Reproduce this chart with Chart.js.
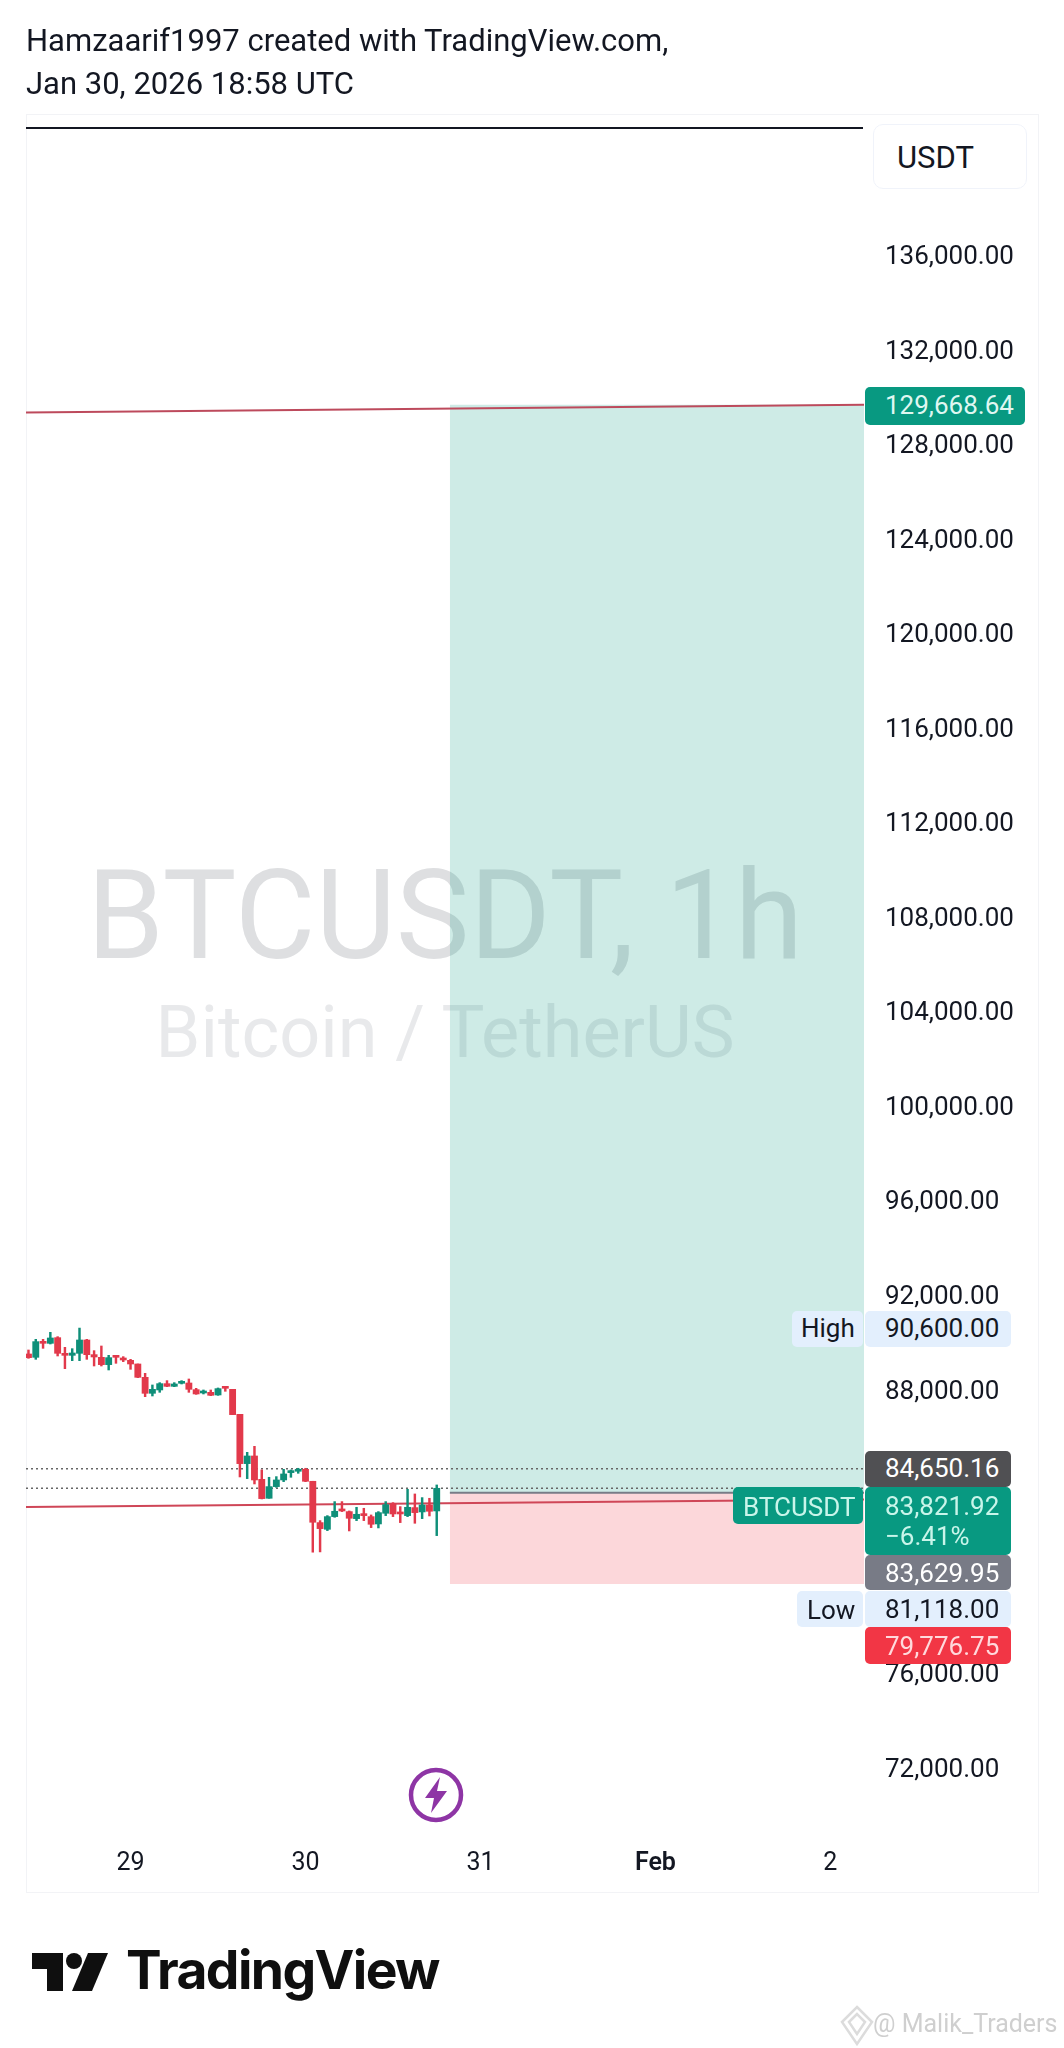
<!DOCTYPE html>
<html><head><meta charset="utf-8">
<style>
html,body{margin:0;padding:0;background:#fff;width:1064px;height:2048px;overflow:hidden;font-family:Roboto,sans-serif;color:#131722}
.t{position:absolute;white-space:nowrap;line-height:1}
#c{position:absolute;left:0;top:0;z-index:1}
.o{z-index:2}
.b{position:absolute;z-index:3;border-radius:5px;font-size:26px;white-space:pre;box-sizing:border-box;line-height:30px}
</style></head><body>
<div class="t o" style="left:26px;top:25px;font-size:31px">Hamzaarif1997 created with TradingView.com,</div>
<div class="t o" style="left:26px;top:68px;font-size:31px">Jan 30, 2026 18:58 UTC</div>
<div class="t" style="left:0;width:890px;top:854px;text-align:center;font-size:124px;color:#dedfe1">BTCUSDT, 1h</div>
<div class="t" style="left:0;width:890px;top:997px;text-align:center;font-size:72px;color:#e8e9eb">Bitcoin / TetherUS</div>
<div style="position:absolute;left:26px;top:114px;width:1013px;height:1779px;box-sizing:border-box;border:1.5px solid #f2f3f6;z-index:0"></div>
<canvas id="c" width="1064" height="2048" style="width:1064px;height:2048px"></canvas>
<div class="o" style="position:absolute;left:26px;top:127px;width:837px;height:2px;background:#131722"></div>
<div class="o" style="position:absolute;left:873px;top:124px;width:154px;height:65px;box-sizing:border-box;border:1.5px solid #f0f3fa;border-radius:10px;background:#fff"></div>
<div class="t o" style="left:897px;top:142px;font-size:31px;z-index:3">USDT</div>
<svg class="o" style="position:absolute;left:404px;top:1763px" width="64" height="64" viewBox="0 0 64 64">
<circle cx="32" cy="32" r="25" fill="none" stroke="#8e35a5" stroke-width="4.5"/>
<path d="M36 14 L21 35 L30 35 L27 50 L43 28 L33 28 Z" fill="#8e35a5"/></svg>
<svg class="o" style="position:absolute;left:30px;top:1951px" width="84" height="44" viewBox="0 0 84 44">
<path d="M2 2 H33 V40 H17 V18 H2 Z" fill="#0f0f0f"/><circle cx="44" cy="10" r="8" fill="#0f0f0f"/>
<path d="M58 2 H78 L62 40 H42 Z" fill="#0f0f0f"/></svg>
<div class="t o" style="left:126px;top:1943px;font-family:Inter,Roboto,sans-serif;font-weight:700;font-size:53.4px;letter-spacing:-1.6px;color:#0f0f0f">TradingView</div>
<svg class="o" style="position:absolute;left:840px;top:2005px" width="34" height="42" viewBox="0 0 34 42">
<path d="M17 2 L32 17 L17 39 L2 17 Z M17 9 L9 17 L17 29 L25 17 Z" fill="none" stroke="#dcdcdc" stroke-width="2.5"/></svg>
<div class="t o" style="left:873px;top:2011px;font-size:25px;color:#cfcfcf">@ Malik_Traders</div>
<script src="https://cdn.jsdelivr.net/npm/chart.js@4"></script>
<script>
const candleHours=[-38,-37,-36,-35,-34,-33,-32,-31,-30,-29,-28,-27,-26,-25,-24,-23,-22,-21,-20,-19,-18,-17,-16,-15,-14,-13,-12,-11,-10,-9,-8,-7,-6,-5,-4,-3,-2,-1,0,1,2,3,4,5,6,7,8,9,10,11,12,13,14,15,16,17,18];
const opens=[89504,89363,90040,89955,90195,89532,89447,89532,90096,89476,89363,89053,89405,89321,89236,89081,88517,87840,87981,88249,88136,88263,88277,87995,87854,87882,87770,88094,88009,86952,84865,85189,84202,83399,83892,84174,84484,84541,84625,84118,82370,82087,82623,82933,82835,82538,82736,82623,82313,82764,83159,82792,82665,83004,82821,83117,82863];
const highs=[89673,90124,90124,90420,90237,89786,89729,90600,90124,89645,89842,89447,89433,89391,89278,89081,88686,88193,88291,88376,88291,88376,88446,88052,87981,87981,88066,88136,88009,86952,85344,85598,84597,84287,84315,84625,84597,84668,84668,84118,82454,82665,83258,83258,82863,83018,82976,82694,82835,83258,83215,83046,83779,83582,83427,83399,83963];
const lows=[89321,89278,89743,89927,89419,88883,89222,89222,89278,88996,88996,88827,89109,89180,88855,88503,87699,87727,87882,88122,88122,88235,87882,87798,87812,87741,87755,87925,86938,84301,84230,84005,83371,83399,83864,84103,84287,84456,84103,81118,81130,82031,82595,82835,82017,82454,82454,82158,82144,82665,82623,82370,82623,82341,82538,82651,81819];
const closes=[89349,90026,89955,90181,89532,89447,89546,90096,89476,89377,89053,89349,89363,89250,89081,88517,87840,88009,88249,88136,88235,88320,88009,87812,87911,87755,88038,88052,86938,84865,85189,84174,83385,83892,84174,84428,84541,84597,84118,82384,82115,82623,82849,82863,82553,82722,82665,82299,82792,83131,82736,82736,83018,82792,83117,82849,83821.92];
const priceTicks=[136000,132000,128000,124000,120000,116000,112000,108000,104000,100000,96000,92000,88000,84000,76000,72000];
const dayTicks=[-24,0,24,48,72];
const dayLabels=['29','30','31','Feb','2'];
const targetPrice=129668.64, entryPrice=83629.95, stopPrice=79776.75;
const lastPrice=83821.92, sessionRef=84650.16;
const upperTrend=[129337,129668.64], lowerTrend=[83030,83344];
const xRange=[-38.34,76.61], yRange=[69153,141373], positionStart=19.8;

const UP='#0f8f79', DOWN='#e2394b';
const cols=closes.map((c,i)=>c>=opens[i]?UP:DOWN);
const hline=(v,color,w,dash,from,order)=>({type:'line',data:[{x:from,y:v},{x:xRange[1],y:v}],borderColor:color,borderWidth:w,borderDash:dash||[],pointRadius:0,order});
const slant=(vals,color,order)=>({type:'line',data:[{x:xRange[0],y:vals[0]},{x:xRange[1],y:vals[1]}],borderColor:color,borderWidth:2,pointRadius:0,order});
const zone=(v,color,order)=>({type:'line',data:[{x:positionStart,y:v},{x:xRange[1],y:v}],borderWidth:0,pointRadius:0,borderColor:'transparent',backgroundColor:color,fill:{target:{value:entryPrice}},order});

const nudgeTickLabels={id:'nudgeTickLabels',beforeDraw(chart){
  chart.scales.y.getLabelItems(chart.chartArea).forEach(it=>{it.options.translation[1]+=2.5});
}};

new Chart(document.getElementById('c'),{
  type:'bar',
  plugins:[nudgeTickLabels],
  data:{datasets:[
    {data:candleHours.map((h,i)=>({x:h,y:[opens[i],closes[i]]})),backgroundColor:cols,barThickness:6.2,minBarLength:2,grouped:false,order:1},
    {data:candleHours.map((h,i)=>({x:h,y:[lows[i],highs[i]]})),backgroundColor:cols,barThickness:1.8,grouped:false,order:2},
    hline(sessionRef,'#666',1.6,[2,3],xRange[0],3),
    hline(lastPrice,'#666',1.6,[2,3],xRange[0],3),
    slant(upperTrend,'#bd4a5c',4),
    slant(lowerTrend,'#cf4657',4),
    hline(entryPrice,'#787b86',2,[],positionStart,5),
    zone(targetPrice,'rgba(8,153,129,0.2)',6),
    zone(stopPrice,'rgba(242,54,69,0.2)',6)
  ]},
  options:{
    responsive:false,animation:false,devicePixelRatio:1,
    layout:{padding:{top:128,bottom:153,left:26,right:0}},
    plugins:{legend:{display:false},tooltip:{enabled:false}},
    scales:{
      x:{type:'linear',min:xRange[0],max:xRange[1],offset:false,
        grid:{display:false,drawTicks:false},border:{display:false},
        afterBuildTicks:s=>{s.ticks=dayTicks.map(v=>({value:v}))},
        afterFit:s=>{s.height=60},
        ticks:{autoSkip:false,maxRotation:0,padding:14,color:'#131722',
          callback:v=>dayLabels[dayTicks.indexOf(v)],
          font:ctx=>({family:'Roboto',size:25,weight:ctx.tick&&ctx.tick.value===48?'600':'400'})}},
      y:{type:'linear',position:'right',min:yRange[0],max:yRange[1],
        grid:{display:false,drawTicks:false},border:{display:false},
        afterBuildTicks:s=>{s.ticks=priceTicks.map(v=>({value:v}))},
        afterFit:s=>{s.width=200},
        ticks:{autoSkip:false,crossAlign:'near',padding:21,color:'#131722',
          callback:v=>v.toLocaleString('en-US',{minimumFractionDigits:2}),
          font:{family:'Roboto',size:26}}}
    }
  }
});

const fmt=v=>v.toLocaleString('en-US',{minimumFractionDigits:2,maximumFractionDigits:2});
const badges=[
 [fmt(targetPrice),865,387,160,38,'#089981','#dff7f1',20,3],
 ['High',792,1311,71,36,'#e3effd','#131722',9,2],
 [fmt(90600),865,1311,146,36,'#e3effd','#131722',20,2],
 [fmt(sessionRef),865,1451,146,36,'#505053','#fff',20,2],
 [fmt(lastPrice)+'\n\u22126.41%',865,1487,146,68,'#089981','#c9f5ea',20,4],
 ['BTCUSDT',733,1487,130,37,'#089981','#c9f5ea',10,5],
 [fmt(entryPrice),865,1555,146,35,'#787b86','#fff',20,3],
 ['Low',797,1591,66,36,'#e3effd','#131722',10,4],
 [fmt(81118),865,1591,146,36,'#e3effd','#131722',20,3],
 [fmt(stopPrice),865,1627,146,37,'#f23645','#ffd9dc',20,4]
];
badges.forEach(([t,x,y,w,h,bg,fg,pad,pt])=>{
  const d=document.createElement('div');d.className='b';d.textContent=t;
  d.style.cssText=`left:${x}px;top:${y}px;width:${w}px;height:${h}px;background:${bg};color:${fg};padding-left:${pad}px;padding-top:${pt}px`;
  document.body.appendChild(d);
});
</script>
</body></html>
